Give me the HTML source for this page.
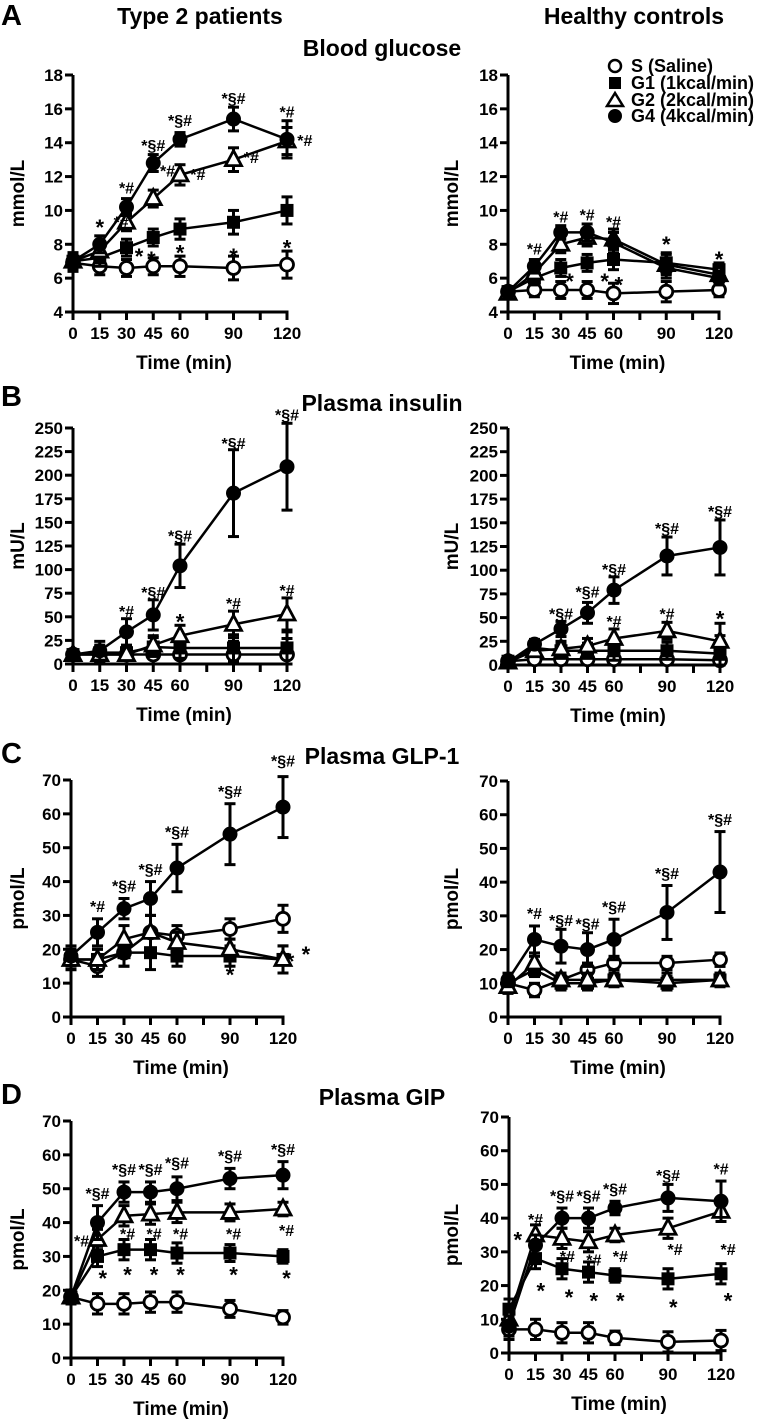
<!DOCTYPE html>
<html><head><meta charset="utf-8"><style>
html,body{margin:0;padding:0;background:#fff;}
svg{display:block;font-family:"Liberation Sans",Arial,sans-serif;font-weight:bold;}
</style></head><body>
<svg id="fig" width="766" height="1423" viewBox="0 0 766 1423" xmlns="http://www.w3.org/2000/svg">
<text x="1" y="25" font-size="29">A</text>
<text x="200" y="24" font-size="23" text-anchor="middle">Type 2 patients</text>
<text x="634" y="24" font-size="23" text-anchor="middle">Healthy controls</text>
<text x="382" y="56" font-size="23" text-anchor="middle">Blood glucose</text>
<text x="1" y="406" font-size="29">B</text>
<text x="382" y="411" font-size="23" text-anchor="middle">Plasma insulin</text>
<text x="1" y="763" font-size="29">C</text>
<text x="382" y="764" font-size="23" text-anchor="middle">Plasma GLP-1</text>
<text x="1" y="1104" font-size="29">D</text>
<text x="382" y="1105" font-size="23" text-anchor="middle">Plasma GIP</text>
<g id="legend">
<circle cx="615" cy="66" r="6" fill="#fff" stroke="#000" stroke-width="2.5"/>
<text x="631" y="72" font-size="18">S (Saline)</text>
<rect x="609" y="77" width="12" height="12" fill="#000"/>
<text x="631" y="89" font-size="18">G1 (1kcal/min)</text>
<polygon points="615,93 607,106 623,106" fill="#fff" stroke="#000" stroke-width="2.5"/>
<text x="631" y="106" font-size="18">G2 (2kcal/min)</text>
<circle cx="615" cy="116" r="7" fill="#000"/>
<text x="631" y="122" font-size="18">G4 (4kcal/min)</text>
</g>
</svg>
<script>
const times = [0,15,30,45,60,90,120];
const xTicks = [0,15,30,45,60,75,90,105,120];
const xTickLabels = ['0','15','30','45','60','','90','','120'];

// Panel A left: blood glucose, type 2
const aL_S  = [6.9,6.7,6.6,6.7,6.7,6.6,6.8];
const aL_G1 = [7.0,7.2,7.8,8.4,8.9,9.3,10.0];
const aL_G2 = [7.0,7.6,9.3,10.7,12.1,13.0,14.1];
const aL_G4 = [7.0,8.0,10.2,12.8,14.2,15.4,14.2];
const aL_err = [0.5,0.5,0.5,0.5,0.6,0.7,0.8];
const aL_G4err = [0.4,0.5,0.5,0.5,0.4,0.7,1.1];
// Panel A right: blood glucose, healthy
const aR_S  = [5.2,5.3,5.3,5.3,5.1,5.2,5.3];
const aR_G1 = [5.2,6.0,6.6,6.9,7.1,6.9,6.5];
const aR_G2 = [5.1,6.3,8.0,8.4,8.3,6.8,6.2];
const aR_G4 = [5.2,6.7,8.7,8.7,8.1,6.6,6.0];
const aR_err = [0.3,0.4,0.5,0.5,0.6,0.6,0.4];
const aR_G4err = [0.3,0.4,0.4,0.5,0.6,0.6,0.4];
// Panel B left: insulin, type 2
const bL_S  = [10,10,10,10,10,10,10];
const bL_G1 = [10,12,12,18,17,17,17];
const bL_G2 = [10,10,10,20,30,42,53];
const bL_G4 = [10,14,34,52,104,181,209];
const bL_err = [4,8,6,10,11,14,17];
const bL_G4err = [4,10,14,16,23,46,46];
// Panel B right: insulin, healthy
const bR_S  = [4,6,6,6,6,6,5];
const bR_G1 = [4,18,15,15,15,15,12];
const bR_G2 = [3,15,17,20,28,36,25];
const bR_G4 = [3,22,38,55,79,115,124];
const bR_err = [3,5,8,8,10,9,19];
const bR_G4err = [3,5,8,11,14,20,29];
// Panel C left: GLP-1, type 2
const cL_S  = [17,15,19,25,24,26,29];
const cL_G1 = [17,17,19,19,18,18,17];
const cL_G2 = [17,17,23,25,22,20,17];
const cL_G4 = [18,25,32,35,44,54,62];
const cL_err = [3,3,4,5,3,3,4];
const cL_G4err = [3,4,3,5,7,9,9];
// Panel C right: GLP-1, healthy
const cR_S  = [10,8,11,14,16,16,17];
const cR_G1 = [10,14,10,10,11,10,11];
const cR_G2 = [9,16,11,11,11,11,11];
const cR_G4 = [11,23,21,20,23,31,43];
const cR_err = [2,2,2,2,2,2,2];
const cR_G4err = [2,4,5,5,6,8,12];
// Panel D left: GIP, type 2
const dL_S  = [18,16,16,16.5,16.5,14.5,12];
const dL_G1 = [18,30,32,32,31,31,30];
const dL_G2 = [18,35,42,42.5,43,43,44];
const dL_G4 = [18,40,49,49,50,53,54];
const dL_err = [2,3,3,3,3,2.5,2];
const dL_G4err = [2,5,3,3,3.5,3,4];
// Panel D right: GIP, healthy
const dR_S  = [7,7,6,6,4.5,3.3,3.7];
const dR_G1 = [13,28,25,24,23,22,23.5];
const dR_G2 = [10,35,34,33,35,37,42];
const dR_G4 = [8,32,40,40,43,46,45];
const dR_err = [3,3,3,3,2,3,3];
const dR_G4err = [3,3,3,3,2,4,6];

const yTicksA = [4,6,8,10,12,14,16,18];
const yTicksB = [0,25,50,75,100,125,150,175,200,225,250];
const yTicksCD = [0,10,20,30,40,50,60,70];

// annotations: [time, value, text]
const annAL = [[15,8.9,'*'],[30,11.0,'*#'],[45,13.5,'*§#'],[60,15.0,'*§#'],[90,16.3,'*§#'],[120,15.5,'*#'],[27,9.0,'*#'],[37,7.2,'*'],[53,12.0,'*#'],[70,11.8,'*#'],[100,12.8,'*#'],[130,13.8,'*#'],[44,7.0,'*'],[60,7.4,'*'],[90,7.2,'*'],[120,7.7,'*']];
const annAR = [[15,7.4,'*#'],[30,9.3,'*#'],[45,9.4,'*#'],[60,9.0,'*#'],[90,7.9,'*'],[120,7.0,'*'],[35,5.7,'*'],[55,5.7,'*'],[63,5.5,'*']];
const annBL = [[30,50,'*#'],[45,70,'*§#'],[60,130,'*§#'],[60,43,'*'],[90,228,'*§#'],[90,58,'*#'],[120,258,'*§#'],[120,72,'*#']];
const annBR = [[30,48,'*§#'],[45,71,'*§#'],[60,95,'*§#'],[60,40,'*#'],[90,138,'*§#'],[90,48,'*#'],[120,156,'*§#'],[120,47,'*']];
const annCL = [[15,31,'*#'],[30,37,'*§#'],[45,42,'*§#'],[60,53,'*§#'],[90,65,'*§#'],[120,74,'*§#'],[90,12,'*'],[124,16,'*'],[133,18,'*']];
const annCR = [[15,29,'*#'],[30,27,'*§#'],[45,26,'*§#'],[60,31,'*§#'],[90,41,'*§#'],[120,57,'*§#']];
const annDL = [[15,47,'*§#'],[30,54,'*§#'],[45,54,'*§#'],[60,56,'*§#'],[90,58,'*§#'],[120,60,'*§#'],[6,33,'*#'],[32,35,'*#'],[47,35,'*#'],[62,35,'*#'],[92,35,'*#'],[122,36,'*#'],[18,23,'*'],[32,24,'*'],[47,24,'*'],[62,24,'*'],[92,24,'*'],[122,23,'*']];
const annDR = [[15,38,'*#'],[30,45,'*§#'],[45,45,'*§#'],[60,47,'*§#'],[90,51,'*§#'],[120,53,'*#'],[5,33,'*'],[33,27,'*#'],[48,26,'*#'],[63,27,'*#'],[94,29,'*#'],[124,29,'*#'],[18,18,'*'],[34,16,'*'],[48,15,'*'],[63,15,'*'],[93,13,'*'],[124,15,'*']];

const panels = [
 {id:'a-left',  x0:73, x1:287, yT:75,  yB:312, min:4, max:18, ticks:yTicksA, unit:'mmol/L', ylx:24,  S:aL_S,G1:aL_G1,G2:aL_G2,G4:aL_G4,e:aL_err,e4:aL_G4err,ann:annAL},
 {id:'a-right', x0:508,x1:719, yT:75,  yB:312, min:4, max:18, ticks:yTicksA, unit:'mmol/L', ylx:458, S:aR_S,G1:aR_G1,G2:aR_G2,G4:aR_G4,e:aR_err,e4:aR_G4err,ann:annAR},
 {id:'b-left',  x0:73, x1:287, yT:428, yB:664, min:0, max:250, ticks:yTicksB, unit:'mU/L', ylx:24,  S:bL_S,G1:bL_G1,G2:bL_G2,G4:bL_G4,e:bL_err,e4:bL_G4err,ann:annBL},
 {id:'b-right', x0:508,x1:720, yT:428, yB:665, min:0, max:250, ticks:yTicksB, unit:'mU/L', ylx:458, S:bR_S,G1:bR_G1,G2:bR_G2,G4:bR_G4,e:bR_err,e4:bR_G4err,ann:annBR},
 {id:'c-left',  x0:71, x1:283, yT:780, yB:1017, min:0, max:70, ticks:yTicksCD, unit:'pmol/L', ylx:24,  S:cL_S,G1:cL_G1,G2:cL_G2,G4:cL_G4,e:cL_err,e4:cL_G4err,ann:annCL},
 {id:'c-right', x0:508,x1:720, yT:781, yB:1017, min:0, max:70, ticks:yTicksCD, unit:'pmol/L', ylx:458, S:cR_S,G1:cR_G1,G2:cR_G2,G4:cR_G4,e:cR_err,e4:cR_G4err,ann:annCR},
 {id:'d-left',  x0:71, x1:283, yT:1121,yB:1358, min:0, max:70, ticks:yTicksCD, unit:'pmol/L', ylx:24,  S:dL_S,G1:dL_G1,G2:dL_G2,G4:dL_G4,e:dL_err,e4:dL_G4err,ann:annDL},
 {id:'d-right', x0:509,x1:721, yT:1117,yB:1353, min:0, max:70, ticks:yTicksCD, unit:'pmol/L', ylx:458, S:dR_S,G1:dR_G1,G2:dR_G2,G4:dR_G4,e:dR_err,e4:dR_G4err,ann:annDR},
];

const NS='http://www.w3.org/2000/svg';
const fig=document.getElementById('fig');
function mk(tag,attrs,parent){const el=document.createElementNS(NS,tag);for(const k in attrs)el.setAttribute(k,attrs[k]);parent.appendChild(el);return el;}

panels.forEach(p=>{
  const g=mk('g',{},fig);
  
  
  const X=t=>p.x0+(p.x1-p.x0)*t/120;
  const Y=v=>p.yB-(p.yB-p.yT)*(v-p.min)/(p.max-p.min);
  const ya=mk('line',{x1:p.x0,y1:p.yT,x2:p.x0,y2:p.yB+1.5,stroke:'#000','stroke-width':3},g);
  
  
  const xa=mk('line',{x1:p.x0-1.5,y1:p.yB,x2:p.x1+1.5,y2:p.yB,stroke:'#000','stroke-width':3},g);
  
  
  p.ticks.forEach(v=>{
    mk('line',{x1:p.x0-8,y1:Y(v),x2:p.x0,y2:Y(v),stroke:'#000','stroke-width':3},g);
    const t=mk('text',{x:p.x0-10,y:Y(v)+6,'font-size':17,'text-anchor':'end'},g);
    t.textContent=v;
    
    
  });
  xTicks.forEach((v,i)=>{
    mk('line',{x1:X(v),y1:p.yB,x2:X(v),y2:p.yB+8,stroke:'#000','stroke-width':3},g);
    if(xTickLabels[i]){
      const t=mk('text',{x:X(v),y:p.yB+27,'font-size':17,'text-anchor':'middle'},g);
      t.textContent=xTickLabels[i];
      
      
    }
  });
  const xt=mk('text',{x:(p.x0+p.x1)/2+4,y:p.yB+57,'font-size':19,'text-anchor':'middle'},g);
  xt.textContent='Time (min)';
  
  
  const yc=(p.yT+p.yB)/2;
  const yt=mk('text',{x:p.ylx,y:yc,'font-size':19,'text-anchor':'middle',transform:`rotate(-90 ${p.ylx} ${yc})`},g);
  yt.textContent=p.unit;
  
  

  const series=[['saline',p.S,p.e],['g1',p.G1,p.e],['g2',p.G2,p.e],['g4',p.G4,p.e4]];
  series.forEach(([name,vals,err])=>{
    const sg=mk('g',{},g);
    
    
    vals.forEach((v,i)=>{
      const x=X(times[i]), y1=Y(v+err[i]), y2=Y(Math.max(p.min,v-err[i]));
      mk('line',{x1:x,y1:y1,x2:x,y2:y2,stroke:'#000','stroke-width':3},sg);
      mk('line',{x1:x-5.5,y1:y1,x2:x+5.5,y2:y1,stroke:'#000','stroke-width':3},sg);
      mk('line',{x1:x-5.5,y1:y2,x2:x+5.5,y2:y2,stroke:'#000','stroke-width':3},sg);
    });
    const pts=vals.map((v,i)=>X(times[i])+','+Y(v)).join(' ');
    const ln=mk('polyline',{points:pts,fill:'none',stroke:'#000','stroke-width':2.5},sg);
    
    
    vals.forEach((v,i)=>{
      const x=X(times[i]), y=Y(v); let m;
      if(name==='saline') m=mk('circle',{cx:x,cy:y,r:6.5,fill:'#fff',stroke:'#000','stroke-width':2.8},sg);
      else if(name==='g1') m=mk('rect',{x:x-6.5,y:y-6.5,width:13,height:13,fill:'#000'},sg);
      else if(name==='g2') m=mk('polygon',{points:`${x},${y-9} ${x-8},${y+6} ${x+8},${y+6}`,fill:'#fff',stroke:'#000','stroke-width':2.8},sg);
      else m=mk('circle',{cx:x,cy:y,r:7.5,fill:'#000'},sg);
      
      
    });
  });
  p.ann.forEach(a=>{
    const lone=a[2]==='*';
    const t=mk('text',{x:X(a[0]),y:Y(a[1])+(lone?6:0),'font-size':lone?22:16,'text-anchor':'middle'},g);
    t.textContent=a[2];
    
    
  });
});
fig.appendChild(document.getElementById('legend'));
</script>
</body></html>
